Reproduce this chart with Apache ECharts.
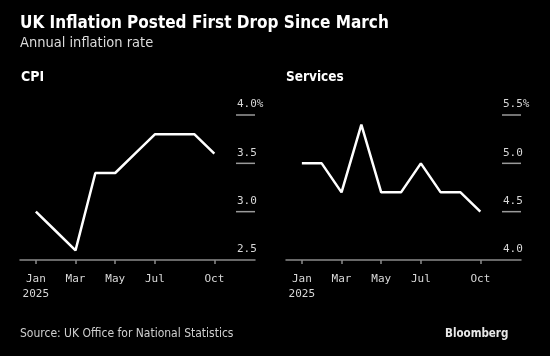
<!DOCTYPE html>
<html><head><meta charset="utf-8">
<script src="https://cdn.jsdelivr.net/npm/echarts@6/dist/echarts.min.js"></script>
<style>html,body{margin:0;padding:0;background:#000;}#c{width:550px;height:356px;}</style>
</head><body><div id="c"></div>
<script>
// Data
const months = ['Jan','Feb','Mar','Apr','May','Jun','Jul','Aug','Sep','Oct'];
const cpi = [3.0, 2.8, 2.6, 3.4, 3.4, 3.6, 3.8, 3.8, 3.8, 3.6];
const services = [5.0, 5.0, 4.7, 5.4, 4.7, 4.7, 5.0, 4.7, 4.7, 4.5];
const xTickIdx = [0, 2, 4, 6, 9];
const xTickLabels = ['Jan\n2025', 'Mar', 'May', 'Jul', 'Oct'];
const cpiTicks = [2.5, 3.0, 3.5, 4.0];
const servTicks = [4.0, 4.5, 5.0, 5.5];
const xMin = -0.8, xMax = 11.05;

const chart = echarts.init(document.getElementById('c'));
const monoFont = 'DejaVu Sans Mono';
const sansFont = 'DejaVu Sans Condensed';

function xAxis(gi){
  return {
    type:'value', gridIndex:gi, min:xMin, max:xMax,
    axisLine:{show:true, lineStyle:{color:'#8a8a8a', width:1.5}},
    axisTick:{show:true, customValues:xTickIdx, length:4, lineStyle:{color:'#8a8a8a', width:1.5}},
    axisLabel:{show:true, customValues:xTickIdx, color:'#d8d8d8', fontFamily:monoFont, fontSize:11, lineHeight:15.5, margin:11,
      formatter:(v)=>{const i=xTickIdx.indexOf(Math.round(v)); return i>=0?xTickLabels[i]:'';}},
    splitLine:{show:false}
  };
}
function yAxis(gi, ticks){
  const mx = ticks[ticks.length-1];
  return {
    type:'value', gridIndex:gi, position:'right', offset:-19, min:ticks[0], max:mx, interval:0.5,
    axisLine:{show:false},
    axisTick:{show:false},
    axisLabel:{show:true, inside:false, align:'left', margin:1, verticalAlign:'bottom', padding:[0,0,5,0],
      color:'#d8d8d8', fontFamily:monoFont, fontSize:11,
      formatter:(v)=> v===mx ? v.toFixed(1)+'%' : v.toFixed(1)},
    splitLine:{show:false}
  };
}
function series(xi, data){
  return {type:'line', xAxisIndex:xi, yAxisIndex:xi, data:data.map((v,i)=>[i,v]), symbol:'none',
    lineStyle:{color:'#ffffff', width:2.5}, animation:false, z:3};
}
function tickSeries(xi, ticks){
  return {type:'custom', xAxisIndex:xi, yAxisIndex:xi, silent:true, animation:false, z:2,
    data:ticks.slice(1).map(v=>[xMax, v]),
    renderItem:(params, api)=>{
      const p = api.coord([api.value(0), api.value(1)]);
      return {type:'line', shape:{x1:p[0]-19, y1:p[1], x2:p[0], y2:p[1]},
        style:{stroke:'#9a9a9a', lineWidth:1.5}};
    }};
}

chart.setOption({
  backgroundColor:'#000',
  animation:false,
  title:[
    {text:'UK Inflation Posted First Drop Since March', left:20, top:15, padding:0, textStyle:{color:'#fff', fontFamily:sansFont, fontWeight:'bold', fontSize:17}},
    {text:'Annual inflation rate', left:20, top:36, padding:0, textStyle:{color:'#dcdcdc', fontFamily:sansFont, fontWeight:'normal', fontSize:14.5}},
    {text:'CPI', left:21, top:70, padding:0, textStyle:{color:'#fff', fontFamily:sansFont, fontWeight:'bold', fontSize:14}},
    {text:'Services', left:286, top:70, padding:0, textStyle:{color:'#fff', fontFamily:sansFont, fontWeight:'bold', fontSize:13.5}},
    {text:'Source: UK Office for National Statistics', left:20, top:328, padding:0, textStyle:{color:'#cfcfcf', fontFamily:sansFont, fontWeight:'normal', fontSize:12}},
    {text:'Bloomberg', left:445, top:328, padding:0, textStyle:{color:'#e8e8e8', fontFamily:sansFont, fontWeight:'bold', fontSize:11.5}}
  ],
  grid:[
    {left:20, width:235, top:115, height:145},
    {left:286, width:235, top:115, height:145}
  ],
  xAxis:[xAxis(0), xAxis(1)],
  yAxis:[yAxis(0, cpiTicks), yAxis(1, servTicks)],
  series:[tickSeries(0, cpiTicks), tickSeries(1, servTicks), series(0, cpi), series(1, services)]
});
</script></body></html>
